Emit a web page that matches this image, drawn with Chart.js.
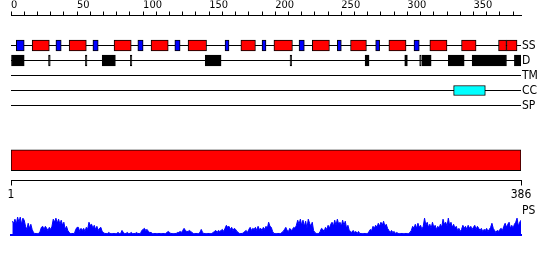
<!DOCTYPE html>
<html>
<head>
<meta charset="utf-8">
<script src="https://cdn.jsdelivr.net/npm/chart.js@4"></script>
<style>
  body { margin: 0; background: #fff; }
  #wrap { position: relative; width: 550px; height: 260px; }
  canvas { position: absolute; left: 0; }
</style>
</head>
<body>
<div id="wrap">
  <canvas id="tracks" width="550" height="115" style="top:0"></canvas>
  <canvas id="protein" width="550" height="62" style="top:140px"></canvas>
  <canvas id="ps" width="550" height="60" style="top:200px"></canvas>
</div>
<script>
// sequence and feature data (residue positions)
const seqLength = 386;
const trackNames = ['SS', 'D', 'TM', 'CC', 'SP'];
const helices = [[16,29],[44,57],[78,91],[106,119],[134,148],[174,185],[199,213],[228,241],[257,269],[286,299],[317,330],[341,352],[369,375],[375,383]];
const strands = [[4,10],[34,38],[62,66],[96,100],[124,128],[162,165],[190,193],[218,222],[247,250],[276,279],[305,309]];
const domains = [[0,10],[28.4,29.7],[56.3,57.5],[69,79],[90.3,91.5],[147,159],[211.2,212.4],[268,271],[298,300],[309.3,310.5],[311,318],[331,343],[349,375],[381,386]];
const coils = [[335,359]];
const endLabels = [1, seqLength];
// PS profile, one value per residue 1..386
const profile = [
  13,11,15,10,17,12,17,10,16,14, 8,5,11,6,10,5,2,1,1,1, 1,3,7,8,5,8,6,4,7,5,
  8,15,12,16,11,15,10,14,9,12, 5,8,4,2,1,1,1,1,5,7, 7,3,6,4,6,3,7,5,12,9,
  10,6,9,5,8,4,6,7,3,2, 1,1,1,2,1,1,1,1,1,1, 2,1,1,4,2,1,1,2,1,1, 2,1,1,1,2,1,1,1,
  4,5,6,4,5,3,2,2, 1,1,1,1,1,1,1,1,1,1,1, 2,3,2, 1,1,1,1,1,
  2,2,3,2,4,6,4,3,3,4,3,2, 1,1,1,1,1,2, 5,2, 1,1,1,1,1,1,1,
  2,3,4,2,4,3,4,5,3,6,9,7,8,5,7,4,6,5,3,2, 1,1,1,2,
  3,4,2,5,7,4,6,5,7,4,8,5,6,4,7,5,8,6,12,
  8,7,3,1,1,1,1,1,1,2, 3,5,7,4,3,6,4,5,7,6, 9,14,10,15,9,14,8,13,6,15,
  11,8,12,4,2,1,1,1,3,6, 5,3,7,5,9,6,10,12,8,14, 9,15,10,12,8,14,9,13,6,9,
  4,3,2,4,2,3,1,3,1,1, 1,1,1,1,1,3,5,4,8,6, 9,7,11,8,12,9,13,8,10,6,
  4,2,4,2,3,1,2,1,
  1,1,1,1,1,1,1,1, 2,4,8,6,10,6,11,7,9,5, 8,16,9,12,7,10,6,12,7,9,
  5,8,6,10,7,15,10,12,8,16, 9,12,7,10,6,8,4,6,3,5, 9,6,8,5,9,6,8,5,7,9,
  5,8,6,4,6,3,5,4,6,3, 5,7,11,6,4,2,4,3,5,6, 4,8,11,7,10,12,6,9,6,10,
  12,16,8,12,14
];

const FONT = "'DejaVu Sans Condensed', 'DejaVu Sans', sans-serif";
Chart.defaults.color = '#000';
Chart.defaults.font.family = FONT;

const base = {
  responsive: false,
  animation: false,
  events: [],
  plugins: { legend: { display: false }, tooltip: { enabled: false } }
};

function boxes(ranges, row, color, thick) {
  return {
    type: 'bar', indexAxis: 'y', grouped: false, order: 1,
    data: ranges.map(r => ({ x: r, y: row })),
    backgroundColor: color, borderColor: '#000', borderWidth: 1,
    borderSkipped: false, barThickness: thick
  };
}

const trackLines = trackNames.map(name => ({
  type: 'line', order: 2,
  data: [{ x: 0, y: name }, { x: seqLength, y: name }],
  borderColor: '#000', borderWidth: 1, pointRadius: 0
}));

new Chart(document.getElementById('tracks'), {
  type: 'bar',
  data: {
    datasets: [
      boxes(helices, 'SS', '#ff0000', 11),
      boxes(strands, 'SS', '#0000ff', 11),
      boxes(domains, 'D', '#000000', 11),
      boxes(coils, 'CC', '#00ffff', 10),
      ...trackLines
    ]
  },
  options: {
    ...base,
    layout: { padding: { left: 11, right: 0, top: 0.5, bottom: 9.5 } },
    scales: {
      x: {
        type: 'linear', position: 'top', min: 0, max: seqLength, offset: false,
        ticks: {
          stepSize: 10, includeBounds: false, autoSkip: false, maxRotation: 0,
          align: 'start', padding: 0, font: { size: 11 },
          callback: v => (v % 50 === 0 ? String(v) : '')
        },
        grid: { drawOnChartArea: false, tickLength: 4, color: '#000', offset: false },
        border: { color: '#000' },
        afterFit: s => { s.height = 15; }
      },
      y: {
        type: 'category', position: 'right', offset: false,
        labels: ['', ''].concat(trackNames),
        ticks: { padding: 1, autoSkip: false, font: { size: 12 } },
        grid: { display: false, drawTicks: false },
        border: { display: false },
        afterFit: s => { s.width = 29; }
      }
    }
  }
});

new Chart(document.getElementById('protein'), {
  type: 'bar',
  data: {
    datasets: [{
      indexAxis: 'y',
      data: [{ x: [1, seqLength], y: 'protein' }],
      backgroundColor: '#ff0000', borderColor: '#000', borderWidth: 1,
      borderSkipped: false, barThickness: 21
    }]
  },
  options: {
    ...base,
    layout: { padding: { left: 11, right: 29, top: 0, bottom: 0 } },
    scales: {
      x: {
        type: 'linear', position: 'bottom', min: 1, max: seqLength, offset: false,
        afterBuildTicks: s => { s.ticks = endLabels.map(v => ({ value: v })); },
        ticks: { autoSkip: false, maxRotation: 0, padding: 2, font: { size: 12 } },
        grid: { drawOnChartArea: false, tickLength: 5, color: '#000', offset: false },
        border: { color: '#000' },
        afterFit: s => { s.height = 21.5; }
      },
      y: { type: 'category', labels: ['protein'], display: false, offset: true }
    }
  }
});

new Chart(document.getElementById('ps'), {
  type: 'line',
  data: {
    datasets: [{
      data: profile.map((v, i) => ({ x: i + 1, y: v })),
      fill: 'origin', backgroundColor: '#0000ff', borderColor: '#0000ff',
      borderWidth: 1, pointRadius: 0, tension: 0
    }]
  },
  options: {
    ...base,
    layout: { padding: { left: 11, right: 0, top: 11, bottom: 25.5 } },
    scales: {
      x: {
        type: 'linear', min: 0, max: seqLength, offset: false,
        ticks: { display: false },
        grid: { display: false },
        border: { color: '#0000ff', width: 2 },
        afterFit: s => { s.height = 0; }
      },
      y: {
        type: 'linear', position: 'right', min: 0, max: 23,
        afterBuildTicks: s => { s.ticks = [{ value: 23 }]; },
        ticks: { padding: 1, font: { size: 12 }, callback: () => 'PS' },
        grid: { display: false, drawTicks: false },
        border: { display: false },
        afterFit: s => { s.width = 29; }
      }
    }
  }
});
</script>
</body>
</html>
